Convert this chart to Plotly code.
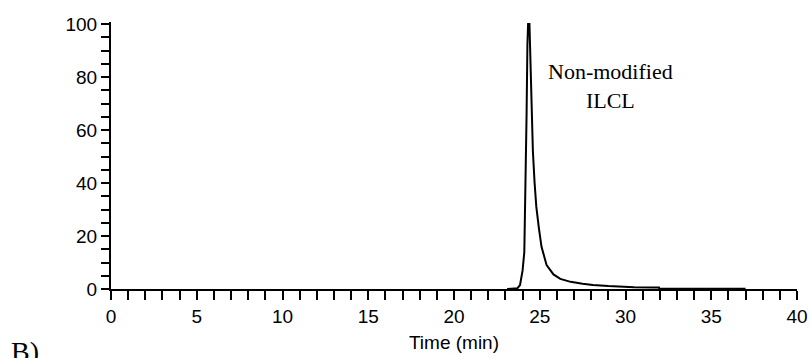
import plotly.graph_objects as go

time_min = [23.1, 23.7, 23.85, 24.0, 24.1, 24.17, 24.23, 24.28, 24.32, 24.4, 24.45, 24.52,
            24.6, 24.7, 24.8, 24.95, 25.1, 25.4, 25.8, 26.2, 26.8, 27.5, 28.1, 29.0,
            29.7, 30.5, 31.6, 31.95, 31.96, 37.0]
intensity = [0, 0.3, 1.5, 7, 14, 35, 65, 92, 100, 100, 85, 70,
             52, 40, 31, 23, 16, 9, 5.5, 3.8, 2.7, 2.0, 1.5, 1.1,
             0.8, 0.7, 0.6, 0.6, 0.2, 0.1]

x_ticks = [0, 5, 10, 15, 20, 25, 30, 35, 40]
y_ticks = [0, 20, 40, 60, 80, 100]

fig = go.Figure()
fig.add_trace(go.Scatter(x=time_min, y=intensity, mode="lines",
                         line=dict(color="black", width=2), showlegend=False))

tick_font = dict(family="Liberation Sans, Arial", size=19, color="black")
fig.update_xaxes(range=[0, 40], tickvals=x_ticks, ticks="outside", ticklen=9, tickwidth=2,
                 tickcolor="black", showline=True, linecolor="black", linewidth=2,
                 showgrid=False, zeroline=False, tickfont=tick_font, automargin=False,
                 minor=dict(dtick=1, ticks="outside", ticklen=9, tickwidth=2, tickcolor="black", showgrid=False),
                 title=dict(text="Time (min)", font=tick_font, standoff=10))
fig.update_yaxes(range=[0, 100.8], tickvals=y_ticks, ticks="outside", ticklen=8, tickwidth=2,
                 tickcolor="black", showline=True, linecolor="black", linewidth=2,
                 showgrid=False, zeroline=False, tickfont=tick_font, automargin=False,
                 minor=dict(dtick=5, ticks="outside", ticklen=8, tickwidth=2, tickcolor="black", showgrid=False))

fig.add_annotation(x=29.1, y=76.5, xref="x", yref="y", text="Non-modified<br>ILCL",
                   showarrow=False, font=dict(family="Liberation Serif, Times New Roman", size=22, color="black"),
                   align="center")
fig.add_annotation(x=-0.148, y=-0.17, xref="paper", yref="paper", text="B)",
                   showarrow=False, xanchor="left", yanchor="top",
                   font=dict(family="Liberation Serif, Times New Roman", size=28, color="black"))

fig.update_layout(width=811, height=358, margin=dict(l=111, r=14, t=22, b=69),
                  plot_bgcolor="white", paper_bgcolor="white")
fig.write_html("out.html")
